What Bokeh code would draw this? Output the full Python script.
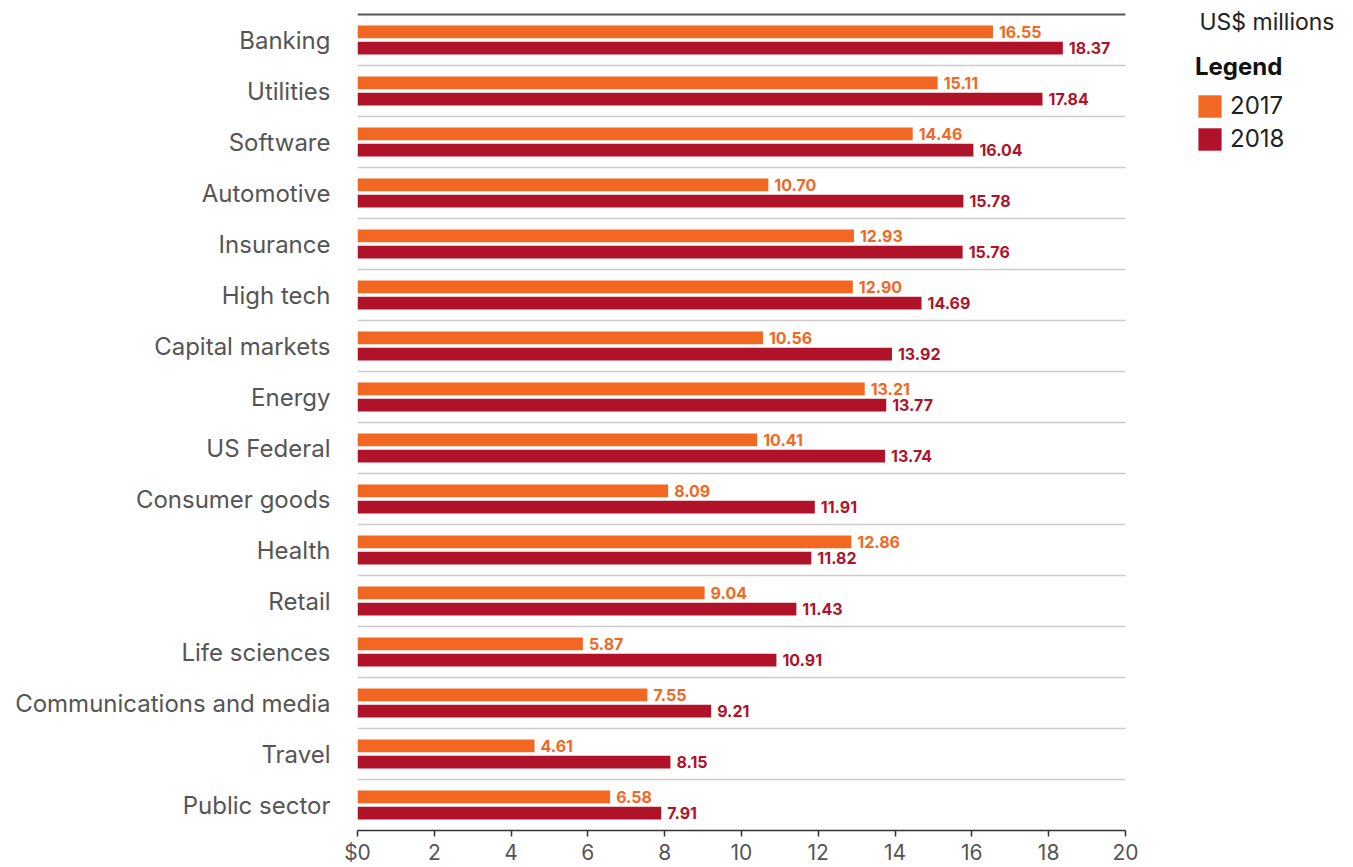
import numpy as np
from bokeh.plotting import figure
from bokeh.models import ColumnDataSource, Range1d, FixedTicker, Legend, LegendItem, Label
from bokeh.embed import file_html
from bokeh.resources import INLINE
from bokeh.core.properties import value
from bokeh.transform import dodge

categories = ["Banking", "Utilities", "Software", "Automotive", "Insurance", "High tech",
              "Capital markets", "Energy", "US Federal", "Consumer goods", "Health", "Retail",
              "Life sciences", "Communications and media", "Travel", "Public sector"]
values_2017 = [16.55, 15.11, 14.46, 10.70, 12.93, 12.90, 10.56, 13.21, 10.41, 8.09, 12.86,
               9.04, 5.87, 7.55, 4.61, 6.58]
values_2018 = [18.37, 17.84, 16.04, 15.78, 15.76, 14.69, 13.92, 13.77, 13.74, 11.91, 11.82,
               11.43, 10.91, 9.21, 8.15, 7.91]
series_names = ["2017", "2018"]
x_ticks = [0, 2, 4, 6, 8, 10, 12, 14, 16, 18, 20]
x_tick_labels = ["$0", "2", "4", "6", "8", "10", "12", "14", "16", "18", "20"]
unit_text = "US$ millions"
legend_title = "Legend"

FONT = "Inter"
ORANGE = "#F26722"
RED = "#AF1229"
TEXT = "#555555"

n = len(categories)
pos = np.arange(n) + 0.5
X_AXIS_MAX = x_ticks[-1]
X_VIEW_MAX = 25.94   # frame extends right so the legend sits inside it

src = ColumnDataSource(dict(
    cat=categories, y=pos,
    v17=values_2017, v18=values_2018,
    t17=[f"{v:.2f}" for v in values_2017],
    t18=[f"{v:.2f}" for v in values_2018],
))

# category separators (boundaries between bands) and the top rule
sep = ColumnDataSource(dict(y=list(range(1, n)), x0=[0] * (n - 1), x1=[X_AXIS_MAX] * (n - 1)))
top = ColumnDataSource(dict(y=[0], x0=[0], x1=[X_AXIS_MAX]))

p = figure(width=1353, height=867, x_range=Range1d(0, X_VIEW_MAX), y_range=Range1d(n, -0.255),
           output_backend="svg", toolbar_location=None,
           min_border_left=357, min_border_right=0, min_border_top=1, min_border_bottom=35)
p.outline_line_color = None
p.background_fill_color = None
p.border_fill_color = "white"
p.xgrid.grid_line_color = None
p.ygrid.grid_line_color = None

p.segment(x0="x0", x1="x1", y0="y", y1="y", source=sep, line_color="#cccccc", line_width=1.5)
p.segment(x0="x0", x1="x1", y0="y", y1="y", source=top, line_color="#555555", line_width=2)

r17 = p.hbar(y=dodge("y", -0.16), left=0, right="v17", height=0.25, source=src,
             fill_color=ORANGE, line_color=None)
r18 = p.hbar(y=dodge("y", 0.16), left=0, right="v18", height=0.25, source=src,
             fill_color=RED, line_color=None)

p.text(x="v17", y=dodge("y", -0.16), text="t17", source=src, x_offset=6,
       text_baseline="middle", text_align="left", text_font=value(FONT),
       text_font_size="16px", text_font_style="bold", text_color=ORANGE)
p.text(x="v18", y=dodge("y", 0.16), text="t18", source=src, x_offset=6,
       text_baseline="middle", text_align="left", text_font=value(FONT),
       text_font_size="16px", text_font_style="bold", text_color=RED)

# y axis
ya = p.yaxis[0]
ya.ticker = FixedTicker(ticks=list(pos))
ya.major_label_overrides = {float(v): c for v, c in zip(pos, categories)}
ya.axis_line_color = None
ya.major_tick_line_color = None
ya.minor_tick_line_color = None
ya.major_label_standoff = 21
ya.major_label_text_font = FONT
ya.major_label_text_font_size = "24px"
ya.major_label_text_color = TEXT

# x axis
xa = p.xaxis[0]
xa.ticker = FixedTicker(ticks=x_ticks)
xa.bounds = (0, X_AXIS_MAX)
xa.major_label_overrides = {t: l for t, l in zip(x_ticks, x_tick_labels)}
xa.axis_line_color = "#333333"
xa.axis_line_width = 1.5
xa.major_tick_line_color = "#333333"
xa.major_tick_line_width = 1.5
xa.major_tick_in = 0
xa.major_tick_out = 6
xa.minor_tick_line_color = None
xa.major_label_standoff = 3
xa.major_label_text_font = FONT
xa.major_label_text_font_size = "21px"
xa.major_label_text_color = TEXT

# unit label
p.add_layout(Label(x=X_AXIS_MAX, y=0.14, x_offset=74, text=unit_text, text_baseline="middle",
                   text_font=FONT, text_font_size="23px", text_color="#222222"))

legend = Legend(items=[LegendItem(label=series_names[0], renderers=[r17]),
                       LegendItem(label=series_names[1], renderers=[r18])],
                title=legend_title, location=(838, 677),
                title_text_font=FONT, title_text_font_size="24px",
                title_text_font_style="bold", title_text_color="#111111",
                title_standoff=10,
                label_text_font=FONT, label_text_font_size="24px", label_text_color="#222222",
                glyph_width=29, glyph_height=28, label_height=28, spacing=4,
                label_standoff=6, padding=0, margin=0,
                border_line_color=None, background_fill_alpha=0)
p.add_layout(legend, "center")

open("out.html", "w").write(file_html(p, INLINE))
